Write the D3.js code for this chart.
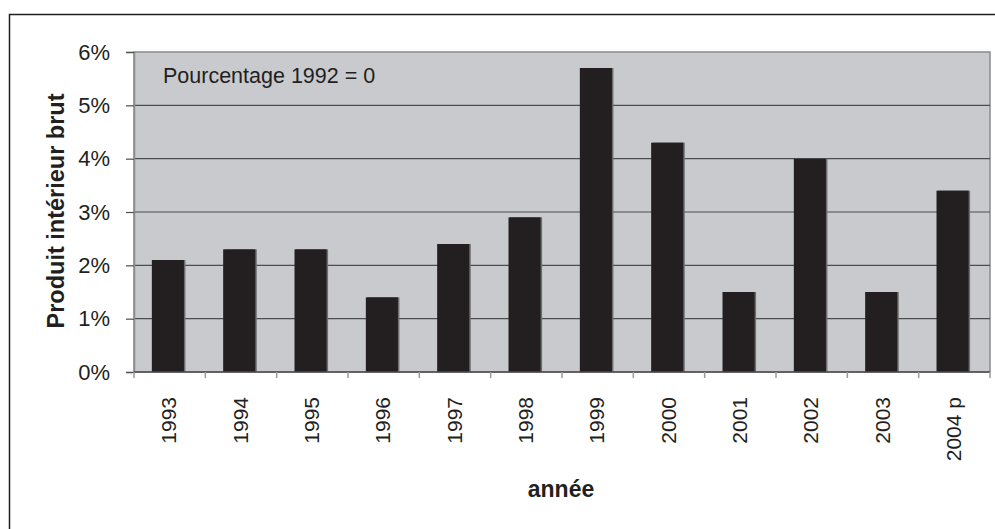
<!DOCTYPE html>
<html>
<head>
<meta charset="utf-8">
<script src="https://cdn.jsdelivr.net/npm/d3@7"></script>
<style>
  html, body { margin: 0; padding: 0; background: #fff; }
  svg { display: block; font-family: "Liberation Sans", Arial, sans-serif; }
</style>
</head>
<body>
<svg id="chart" width="995" height="529"></svg>
<script>
// Annual growth of gross domestic product (%)
const years = ["1993", "1994", "1995", "1996", "1997", "1998", "1999", "2000", "2001", "2002", "2003", "2004 p"];
const growth = [2.1, 2.3, 2.3, 1.4, 2.4, 2.9, 5.7, 4.3, 1.5, 4.0, 1.5, 3.4];
const yTicks = [0, 1, 2, 3, 4, 5, 6];

const svg = d3.select("#chart");
const plot = { left: 134, right: 990, top: 52, bottom: 372 };

// outer frame (runs past the right and bottom edges)
svg.append("rect")
  .attr("x", 9.5).attr("y", 14.5)
  .attr("width", 1000).attr("height", 530)
  .attr("fill", "#fff").attr("stroke", "#231f20").attr("stroke-width", 1.5);

const x = d3.scaleBand().domain(years).range([plot.left, plot.right]);
const barW = x.bandwidth() * 0.45;
const barOff = x.bandwidth() * 0.25;
const y = d3.scaleLinear().domain([0, 6]).range([plot.bottom, plot.top]);

// plot background
svg.append("rect")
  .attr("x", plot.left).attr("y", plot.top)
  .attr("width", plot.right - plot.left).attr("height", plot.bottom - plot.top)
  .attr("fill", "#c9cacd").attr("stroke", "#8a8a8a").attr("stroke-width", 1.5);

// horizontal gridlines
svg.append("g").selectAll("line")
  .data(yTicks.filter(t => t > 0 && t < 6))
  .join("line")
  .attr("x1", plot.left).attr("x2", plot.right)
  .attr("y1", d => y(d)).attr("y2", d => y(d))
  .attr("stroke", "#4d4d4f").attr("stroke-width", 1.2);

// bars with a faint right-hand shade
const bars = svg.append("g");
bars.selectAll("rect.shade")
  .data(growth)
  .join("rect")
  .attr("class", "shade")
  .attr("x", (d, i) => x(years[i]) + barOff + 1.5)
  .attr("y", d => y(d))
  .attr("width", barW)
  .attr("height", d => plot.bottom - y(d))
  .attr("fill", "#6d6d6f");
bars.selectAll("rect.bar")
  .data(growth)
  .join("rect")
  .attr("class", "bar")
  .attr("x", (d, i) => x(years[i]) + barOff)
  .attr("y", d => y(d))
  .attr("width", barW)
  .attr("height", d => plot.bottom - y(d))
  .attr("fill", "#231f20");

// y axis
const yAxis = d3.axisLeft(y).tickValues(yTicks).tickSize(8).tickPadding(16).tickFormat(d => d + "%");
const gy = svg.append("g").attr("transform", `translate(${plot.left},0)`).call(yAxis);
gy.select(".domain").attr("stroke", "#8a8a8a").attr("stroke-width", 1.5);
gy.selectAll(".tick line").attr("stroke", "#4d4d4f").attr("stroke-width", 1.2);
gy.selectAll(".tick text").attr("font-size", 22).attr("fill", "#231f20")
  .attr("font-family", "Liberation Sans, Arial, sans-serif");

// x axis baseline and category separators
svg.append("line")
  .attr("x1", plot.left).attr("x2", plot.right)
  .attr("y1", plot.bottom).attr("y2", plot.bottom)
  .attr("stroke", "#4d4d4f").attr("stroke-width", 1.5);
svg.append("g").selectAll("line")
  .data(years.concat(["end"]))
  .join("line")
  .attr("x1", (d, i) => i < years.length ? x(d) : plot.right)
  .attr("x2", (d, i) => i < years.length ? x(d) : plot.right)
  .attr("y1", plot.bottom).attr("y2", plot.bottom + 6)
  .attr("stroke", "#9a9a9a").attr("stroke-width", 1.5);

// rotated year labels
svg.append("g").selectAll("text")
  .data(years)
  .join("text")
  .attr("transform", d => `translate(${x(d) + x.bandwidth() / 2 + 6.5},397) rotate(-90)`)
  .attr("text-anchor", "end")
  .attr("font-size", 21)
  .attr("fill", "#231f20")
  .text(d => d);

// note inside plot
svg.append("text")
  .attr("x", 163).attr("y", 83)
  .attr("font-size", 21.5)
  .attr("fill", "#231f20")
  .text("Pourcentage 1992 = 0");

// axis titles
svg.append("text")
  .attr("transform", `translate(64,211) rotate(-90)`)
  .attr("text-anchor", "middle")
  .attr("font-size", 23.5).attr("font-weight", "bold")
  .attr("fill", "#231f20")
  .text("Produit intérieur brut");

svg.append("text")
  .attr("x", 561).attr("y", 497)
  .attr("text-anchor", "middle")
  .attr("font-size", 23).attr("font-weight", "bold")
  .attr("fill", "#231f20")
  .text("année");
</script>
</body>
</html>
